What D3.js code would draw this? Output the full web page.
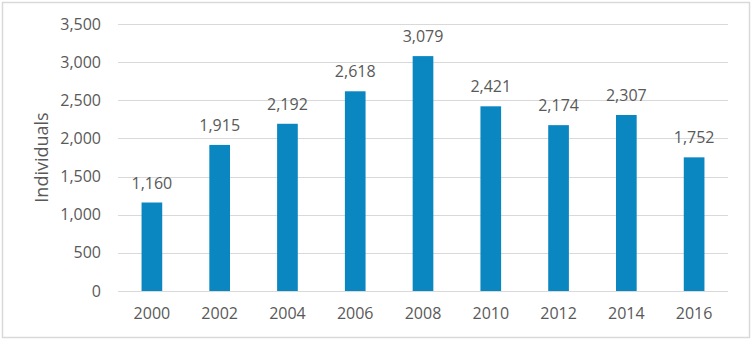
<!DOCTYPE html>
<html>
<head>
<meta charset="utf-8">
<script src="https://cdn.jsdelivr.net/npm/d3@7"></script>
<style>
  html, body { margin: 0; padding: 0; background: #fff; }
  svg { display: block; }
</style>
</head>
<body>
<svg id="chart" width="753" height="341"></svg>
<script>
// Individuals counted per survey year
const years = ["2000", "2002", "2004", "2006", "2008", "2010", "2012", "2014", "2016"];
const individuals = [1160, 1915, 2192, 2618, 3079, 2421, 2174, 2307, 1752];
const yTicks = [0, 500, 1000, 1500, 2000, 2500, 3000, 3500];
const yTitle = "Individuals";

const W = 753, H = 341;
const margin = { top: 24, right: 25, bottom: 50, left: 118 };
const svg = d3.select("#chart");
const font = "'Open Sans', 'Noto Sans', sans-serif";
const textColor = "#595959";
const fs = 16;

// Chart frame
svg.append("rect")
  .attr("x", 2.5).attr("y", 2.5)
  .attr("width", W - 6).attr("height", H - 6)
  .attr("fill", "#fff").attr("stroke", "#d9d9d9").attr("stroke-width", 1.5);

const x = d3.scaleBand().domain(years).range([margin.left, W - margin.right]).padding(0);
const y = d3.scaleLinear().domain([0, 3500]).range([H - margin.bottom, margin.top]);

// Horizontal gridlines
svg.append("g").selectAll("line").data(yTicks).join("line")
  .attr("x1", margin.left).attr("x2", W - margin.right)
  .attr("y1", d => Math.round(y(d)) + 0.5).attr("y2", d => Math.round(y(d)) + 0.5)
  .attr("stroke", "#d9d9d9").attr("stroke-width", 1);

// Y axis labels
const yAxis = d3.axisLeft(y).tickValues(yTicks).tickFormat(d3.format(",")).tickSize(0).tickPadding(17);
const gy = svg.append("g").attr("transform", `translate(${margin.left},0)`).call(yAxis);
gy.select(".domain").remove();
gy.selectAll("text").attr("font-family", font).attr("font-size", fs).attr("fill", textColor);

// X axis labels
const xAxis = d3.axisBottom(x).tickSize(0).tickPadding(17);
const gx = svg.append("g").attr("transform", `translate(0,${H - margin.bottom})`).call(xAxis);
gx.select(".domain").remove();
gx.selectAll("text").attr("font-family", font).attr("font-size", fs).attr("fill", textColor);

// Bars
const barW = x.bandwidth() * 0.305;
svg.append("g").selectAll("rect").data(individuals).join("rect")
  .attr("x", (d, i) => x(years[i]) + x.bandwidth() / 2 - barW / 2)
  .attr("y", d => y(d))
  .attr("width", barW)
  .attr("height", d => y(0) - y(d))
  .attr("fill", "#0a86c1");

// Value labels
svg.append("g").selectAll("text").data(individuals).join("text")
  .attr("x", (d, i) => x(years[i]) + x.bandwidth() / 2)
  .attr("y", d => y(d) - 14)
  .attr("text-anchor", "middle")
  .attr("font-family", font).attr("font-size", fs).attr("fill", textColor)
  .text(d => d3.format(",")(d));

// Y axis title
svg.append("text")
  .attr("transform", `translate(48,${(y(0) + y(3500)) / 2}) rotate(-90)`)
  .attr("text-anchor", "middle")
  .attr("font-family", font).attr("font-size", 18).attr("fill", textColor)
  .text(yTitle);
</script>
</body>
</html>
